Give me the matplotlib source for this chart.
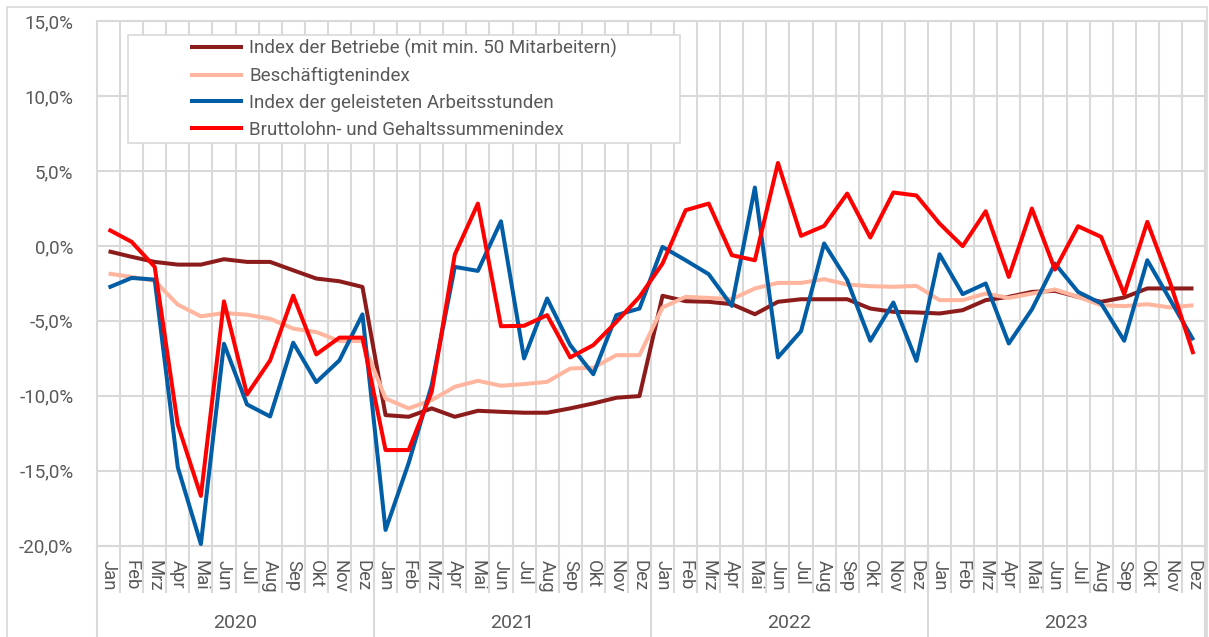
import numpy as np
import matplotlib
matplotlib.use("Agg")
import matplotlib.pyplot as plt
from matplotlib.patches import Rectangle
from matplotlib.transforms import blended_transform_factory

plt.rcParams['font.family'] = ['Roboto', 'DejaVu Sans']

# ---------------- data ----------------
years = ["2020", "2021", "2022", "2023"]
months = ["Jan", "Feb", "Mrz", "Apr", "Mai", "Jun", "Jul", "Aug", "Sep", "Okt", "Nov", "Dez"]

series_names = [
    "Index der Betriebe (mit min. 50 Mitarbeitern)",
    "Beschäftigtenindex",
    "Index der geleisteten Arbeitsstunden",
    "Bruttolohn- und Gehaltssummenindex",
]

betriebe = [
    -0.36, -0.73, -1.07, -1.25, -1.25, -0.89, -1.07, -1.07, -1.63, -2.18, -2.36, -2.74,
    -11.29, -11.40, -10.84, -11.40, -11.00, -11.07, -11.13, -11.13, -10.84, -10.51, -10.13, -10.02,
    -3.33, -3.69, -3.73, -3.89, -4.56, -3.73, -3.56, -3.56, -3.56, -4.18, -4.40, -4.44,
    -4.51, -4.29, -3.62, -3.40, -3.07, -3.00, -3.40, -3.73, -3.44, -2.84, -2.84, -2.84,
]
beschaeftigte = [
    -1.85, -2.07, -2.34, -3.92, -4.70, -4.48, -4.59, -4.86, -5.52, -5.75, -6.35, -6.35,
    -10.18, -10.84, -10.29, -9.40, -9.00, -9.33, -9.22, -9.07, -8.18, -8.13, -7.29, -7.29,
    -4.11, -3.40, -3.47, -3.56, -2.84, -2.47, -2.47, -2.22, -2.58, -2.69, -2.73, -2.67,
    -3.62, -3.62, -3.18, -3.47, -3.18, -2.91, -3.40, -3.96, -4.02, -3.89, -4.11, -3.96,
]
arbeitsstunden = [
    -2.78, -2.14, -2.25, -14.77, -19.89, -6.53, -10.58, -11.38, -6.46, -9.09, -7.64, -4.57,
    -18.95, -14.49, -9.29, -1.40, -1.67, 1.64, -7.51, -3.51, -6.62, -8.56, -4.62, -4.18,
    -0.07, -0.96, -1.89, -4.00, 3.89, -7.44, -5.69, 0.16, -2.29, -6.33, -3.78, -7.67,
    -0.56, -3.22, -2.51, -6.51, -4.24, -1.18, -3.07, -3.84, -6.33, -0.96, -3.62, -6.29,
]
bruttolohn = [
    1.09, 0.27, -1.40, -11.92, -16.68, -3.70, -9.91, -7.64, -3.32, -7.24, -6.12, -6.12,
    -13.62, -13.62, -9.73, -0.58, 2.82, -5.36, -5.33, -4.62, -7.44, -6.62, -5.07, -3.40,
    -1.18, 2.38, 2.82, -0.62, -0.96, 5.53, 0.67, 1.33, 3.49, 0.56, 3.56, 3.36,
    1.49, -0.02, 2.31, -2.07, 2.49, -1.58, 1.31, 0.60, -3.22, 1.60, -2.51, -7.22,
]

y_ticks = [-20, -15, -10, -5, 0, 5, 10, 15]
y_tick_labels = ["-20,0%", "-15,0%", "-10,0%", "-5,0%", "0,0%", "5,0%", "10,0%", "15,0%"]

colors = ["#8C1C1C", "#FFB59E", "#005DA6", "#FF0000"]

# ---------------- figure ----------------
W, H = 1209, 637
fig = plt.figure(figsize=(W / 100, H / 100), dpi=100)
fig.patch.set_facecolor("white")

left_px, right_px, top_px, bottom_px = 97, 1205, 21, 545.7
ax = fig.add_axes([left_px / W, (H - bottom_px) / H,
                   (right_px - left_px) / W, (bottom_px - top_px) / H])

grid_c = "#D9D9D9"
text_c = "#595959"

n = len(years) * len(months)
x = np.arange(n)
all_series = [betriebe, beschaeftigte, arbeitsstunden, bruttolohn]
handles = []
for s, c, name in zip(all_series, colors, series_names):
    h, = ax.plot(x, s, color=c, lw=2.9, label=name, zorder=3,
                 solid_joinstyle="round", solid_capstyle="butt")
    handles.append(h)

ax.set_xlim(-0.5, n - 0.5)
ax.set_ylim(y_ticks[0], y_ticks[-1])

# y axis
ax.set_yticks(y_ticks)
ax.set_yticklabels(y_tick_labels)
ax.tick_params(axis="y", length=0, pad=17, labelsize=13.5, labelcolor=text_c)
ax.grid(which="major", axis="y", color=grid_c, lw=1.5, zorder=0)

# x axis: month labels at centers, boundaries as minor ticks/grid
ax.set_xticks(x)
ax.set_xticklabels(months * len(years), rotation=270)
ax.tick_params(axis="x", which="major", length=0, pad=10, labelsize=13.3, labelcolor=text_c)
ax.set_xticks(np.arange(0.5, n - 1, 1), minor=True)
ax.tick_params(axis="x", which="minor", length=34, width=1.5, color=grid_c, direction="out")
ax.grid(which="minor", axis="x", color=grid_c, lw=1.5, zorder=0)
ax.set_axisbelow(True)

for sp in ax.spines.values():
    sp.set_color(grid_c)
    sp.set_linewidth(1.5)

# year separators and year labels
trans = blended_transform_factory(ax.transData, ax.transAxes)
for i in range(len(years) + 1):
    ax.axvline(i * len(months) - 0.5, ymin=-0.25, ymax=0, color=grid_c, lw=1.5, clip_on=False)
for i, yr in enumerate(years):
    ax.text(i * len(months) + (len(months) - 1) / 2, -0.147, yr, transform=trans,
            ha="center", va="center", fontsize=14, color=text_c)

# legend box + legend
rect = Rectangle((128 / W, 1 - 143 / H), (680 - 128) / W, (143 - 35) / H,
                 transform=fig.transFigure, facecolor="white", edgecolor=grid_c,
                 lw=1.2, zorder=4)
fig.add_artist(rect)
leg = fig.legend(handles, series_names, loc="upper left",
                 bbox_to_anchor=(190 / W, 1 - 39 / H), bbox_transform=fig.transFigure,
                 frameon=False, borderpad=0, borderaxespad=0, fontsize=13.5,
                 handlelength=2.85, handletextpad=0.3, labelspacing=0.47,
                 labelcolor=text_c)
leg.set_zorder(5)

# outer chart border
border = Rectangle((7 / W, -0.05), (1207 - 7) / W, (H - 7) / H + 0.05,
                   transform=fig.transFigure, fill=False, edgecolor=grid_c, lw=1.2, zorder=0)
fig.add_artist(border)

fig.savefig("out.png", dpi=100, facecolor="white")
